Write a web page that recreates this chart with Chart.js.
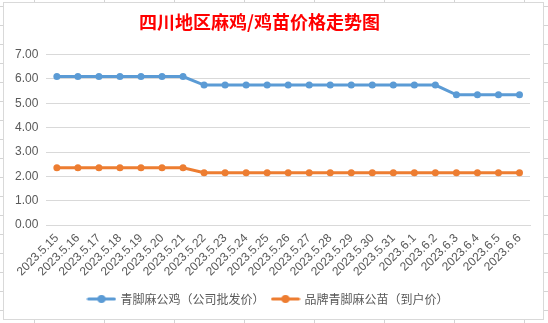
<!DOCTYPE html>
<html>
<head>
<meta charset="utf-8">
<script src="https://cdn.jsdelivr.net/npm/chart.js@4.4.0/dist/chart.umd.min.js"></script>
<style>
  html, body { margin: 0; padding: 0; }
  body {
    width: 548px; height: 323px; position: relative; overflow: hidden;
    background-color: #ffffff;
    background-image:
      repeating-linear-gradient(to bottom, transparent 0px, transparent 6px, #d4d4d4 6px, #d4d4d4 7px, transparent 7px, transparent 19px),
      repeating-linear-gradient(to right, transparent 0px, transparent 34px, #d4d4d4 34px, #d4d4d4 35px, transparent 35px, transparent 70px);
  }
  #box {
    position: absolute; left: 3px; top: 2px; width: 541px; height: 318px;
    box-sizing: border-box; border: 1px solid #d9d9d9; background: #ffffff;
  }
  #c { display: block; }
</style>
</head>
<body>
<div id="box"><canvas id="c" width="539" height="316"></canvas></div>
<script>
const titleText = '四川地区麻鸡/鸡苗价格走势图';
const categories = ['2023.5.15','2023.5.16','2023.5.17','2023.5.18','2023.5.19','2023.5.20','2023.5.21','2023.5.22','2023.5.23','2023.5.24','2023.5.25','2023.5.26','2023.5.27','2023.5.28','2023.5.29','2023.5.30','2023.5.31','2023.6.1','2023.6.2','2023.6.3','2023.6.4','2023.6.5','2023.6.6'];
const seriesNames = ['青脚麻公鸡（公司批发价）', '品牌青脚麻公苗（到户价）'];
const roosterPrice = [6.10,6.10,6.10,6.10,6.10,6.10,6.10,5.75,5.75,5.75,5.75,5.75,5.75,5.75,5.75,5.75,5.75,5.75,5.75,5.35,5.35,5.35,5.35];
const chickPrice = [2.35,2.35,2.35,2.35,2.35,2.35,2.35,2.15,2.15,2.15,2.15,2.15,2.15,2.15,2.15,2.15,2.15,2.15,2.15,2.15,2.15,2.15,2.15];
const yTicks = [0, 1, 2, 3, 4, 5, 6, 7];

const colors = ['#5B9BD5', '#ED7D31'];
const textColor = '#595959';
const fontFam = '"Liberation Sans", "Noto Sans CJK SC", sans-serif';

function legendMarker(color) {
  const cv = document.createElement('canvas');
  cv.width = 30; cv.height = 10;
  const g = cv.getContext('2d');
  g.strokeStyle = color; g.lineWidth = 3; g.lineCap = 'round';
  g.beginPath(); g.moveTo(2, 5); g.lineTo(28, 5); g.stroke();
  g.fillStyle = color;
  g.beginPath(); g.arc(15, 5, 4, 0, Math.PI * 2); g.fill();
  return cv;
}
const markers = colors.map(legendMarker);

new Chart(document.getElementById('c'), {
  type: 'line',
  data: {
    labels: categories,
    datasets: [
      { label: seriesNames[0], data: roosterPrice, borderColor: colors[0], backgroundColor: colors[0],
        borderWidth: 3, pointRadius: 3.5, pointBorderWidth: 0, pointBackgroundColor: colors[0], tension: 0 },
      { label: seriesNames[1], data: chickPrice, borderColor: colors[1], backgroundColor: colors[1],
        borderWidth: 3, pointRadius: 3.5, pointBorderWidth: 0, pointBackgroundColor: colors[1], tension: 0 }
    ]
  },
  options: {
    responsive: false,
    animation: false,
    events: [],
    layout: { padding: { left: 3, right: 13, top: 8, bottom: 4 } },
    plugins: {
      title: {
        display: true, text: titleText + '\u3000', color: '#FF0000',
        font: { family: '"Noto Sans CJK SC", sans-serif', size: 18, weight: 'bold' },
        padding: { top: 0, bottom: 22 }
      },
      legend: {
        position: 'bottom',
        labels: {
          color: textColor,
          font: { family: '"Noto Sans CJK SC", sans-serif', size: 12 },
          usePointStyle: true,
          pointStyleWidth: 26,
          padding: 8,
          generateLabels: (chart) => chart.data.datasets.map((ds, i) => ({
            text: ds.label, fillStyle: colors[i], strokeStyle: colors[i], lineWidth: 0,
            pointStyle: markers[i], datasetIndex: i, hidden: false, fontColor: textColor
          }))
        }
      },
      tooltip: { enabled: false }
    },
    scales: {
      x: {
        offset: true,
        grid: { display: false, drawTicks: false },
        border: { display: true, color: '#d9d9d9' },
        ticks: {
          color: textColor, font: { family: fontFam, size: 12 },
          minRotation: 45, maxRotation: 45, autoSkip: false, padding: 6
        }
      },
      y: {
        min: 0, max: 7,
        afterBuildTicks: (axis) => { axis.ticks = yTicks.map(v => ({ value: v })); },
        grid: { color: '#d9d9d9', drawTicks: false },
        border: { display: false },
        ticks: {
          color: textColor, font: { family: fontFam, size: 12 }, padding: 8,
          callback: (v) => Number(v).toFixed(2)
        }
      }
    }
  }
});
</script>
</body>
</html>
